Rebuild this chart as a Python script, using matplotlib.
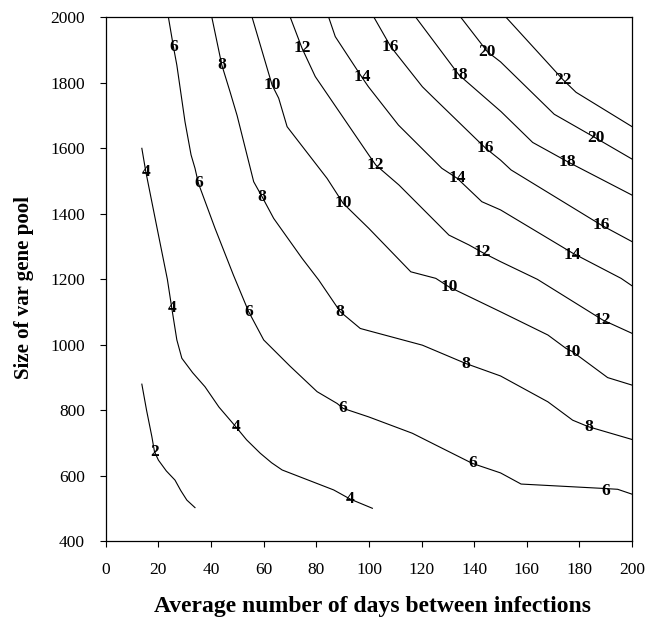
import matplotlib
matplotlib.use('Agg')
import matplotlib.pyplot as plt

# Contour lines (x = days between infections, y = var gene pool size)
c2_x = [13.7, 15.5, 17.5, 18.5, 20.0, 23.0, 26.3, 28.5, 30.8, 33.9]
c2_y = [880, 800, 720, 674, 648, 615, 587, 555, 526, 503]

c4_x = [13.7, 15.2, 19.4, 23.4, 25.1, 27.0, 28.9, 33.0, 37.7, 43.0, 49.4, 53.5, 58.7, 63.0, 67.0, 76.0, 86.6, 92.9, 101.3]
c4_y = [1600, 1529, 1360, 1200, 1111, 1015, 959, 915, 872, 810, 750, 710, 669, 640, 618, 590, 557, 529, 501]

c6_x = [23.8, 25.7, 27.0, 30.1, 32.4, 33.9, 35.2, 41.5, 48.5, 54.3, 60.0, 70.0, 80.3, 87.9, 90.2, 99.9, 116.5, 125.4, 139.3, 150.0, 157.8, 188.2, 194.5, 200]
c6_y = [2000, 1910, 1854, 1681, 1580, 1539, 1493, 1356, 1213, 1101, 1015, 935, 857, 821, 806, 780, 730, 694, 638, 609, 575, 562, 559, 544]

c8_x = [40.3, 44.1, 47.2, 49.9, 56.2, 59.4, 63.8, 74.6, 80.9, 89.1, 96.7, 99.9, 120.3, 136.8, 150.0, 168.0, 177.4, 183.4, 200]
c8_y = [2000, 1854, 1773, 1700, 1498, 1452, 1386, 1264, 1198, 1101, 1050, 1043, 999, 943, 905, 826, 770, 750, 711]

c10_x = [55.6, 63.2, 65.7, 68.9, 84.1, 90.2, 99.9, 115.9, 125.4, 130.4, 150.0, 168.0, 174.9, 177.4, 190.7, 200]
c10_y = [2000, 1793, 1753, 1666, 1508, 1432, 1356, 1223, 1203, 1177, 1101, 1030, 989, 979, 900, 877]

c12_x = [70.1, 74.6, 79.6, 99.9, 102.6, 111.4, 130.4, 138.0, 143.1, 150.0, 164.0, 188.8, 200]
c12_y = [2000, 1905, 1819, 1580, 1549, 1488, 1335, 1305, 1282, 1254, 1200, 1076, 1035]

c14_x = [84.7, 87.2, 97.4, 99.8, 111.2, 127.7, 133.6, 142.9, 150.0, 177.4, 195.8, 200]
c14_y = [2000, 1941, 1816, 1788, 1671, 1539, 1508, 1437, 1412, 1280, 1203, 1180]

c16_x = [101.9, 108.3, 120.3, 124.1, 141.8, 144.4, 150.0, 154.0, 188.2, 200]
c16_y = [2000, 1910, 1788, 1758, 1620, 1600, 1564, 1534, 1366, 1315]

c18_x = [117.8, 134.2, 150.2, 162.2, 175.5, 200]
c18_y = [2000, 1824, 1712, 1618, 1559, 1457]

c20_x = [134.9, 145.0, 150.0, 170.4, 186.3, 200]
c20_y = [2000, 1895, 1864, 1704, 1631, 1567]

c22_x = [152.1, 173.8, 178.7, 200]
c22_y = [2000, 1809, 1771, 1666]

# contour labels: value and where it sits
lab_val = ['2', '4', '4', '4', '4',
           '6', '6', '6', '6', '6', '6',
           '8', '8', '8', '8', '8',
           '10', '10', '10', '10',
           '12', '12', '12', '12',
           '14', '14', '14',
           '16', '16', '16',
           '18', '18',
           '20', '20',
           '22']
lab_x = [18.5, 15.2, 25.1, 49.4, 92.9,
         25.7, 35.2, 54.3, 90.2, 139.3, 190.1,
         44.1, 59.4, 89.1, 136.8, 183.4,
         63.2, 90.2, 130.4, 177.4,
         74.6, 102.6, 143.1, 188.8,
         97.4, 133.6, 177.4,
         108.3, 144.4, 188.2,
         134.2, 175.5,
         145.0, 186.3,
         173.8]
lab_y = [674, 1529, 1111, 750, 529,
         1910, 1493, 1101, 806, 638, 555,
         1854, 1452, 1101, 943, 750,
         1793, 1432, 1177, 979,
         1905, 1549, 1282, 1076,
         1819, 1508, 1274,
         1910, 1600, 1366,
         1824, 1559,
         1895, 1631,
         1809]

plt.rcParams['font.family'] = ['Liberation Serif', 'DejaVu Serif']

fig = plt.figure(figsize=(6.49, 6.18), dpi=100)
ax = fig.add_axes([0.163, 0.124, 0.811, 0.848])

lines = [(c2_x, c2_y), (c4_x, c4_y), (c6_x, c6_y), (c8_x, c8_y), (c10_x, c10_y),
         (c12_x, c12_y), (c14_x, c14_y), (c16_x, c16_y), (c18_x, c18_y),
         (c20_x, c20_y), (c22_x, c22_y)]
for lx, ly in lines:
    ax.plot(lx, ly, color='black', lw=0.8)

for t, x, y in zip(lab_val, lab_x, lab_y):
    ax.text(x, y, t, ha='center', va='center', fontsize=12.5, fontweight='bold')

ax.set_xlim(0, 200)
ax.set_ylim(400, 2000)
ax.set_xticks(range(0, 201, 20))
ax.set_yticks(range(400, 2001, 200))
ax.tick_params(direction='out', length=4, width=0.8, labelsize=12.5, pad=11)
for s in ax.spines.values():
    s.set_linewidth(0.9)

ax.set_xlabel('Average number of days between infections', fontsize=17, fontweight='bold', va='center')
ax.set_ylabel('Size of var gene pool', fontsize=15, fontweight='bold', va='center')
ax.xaxis.set_label_coords(0.507, -0.1235)
ax.yaxis.set_label_coords(-0.155, 0.485)

plt.savefig('out.png', dpi=100)
